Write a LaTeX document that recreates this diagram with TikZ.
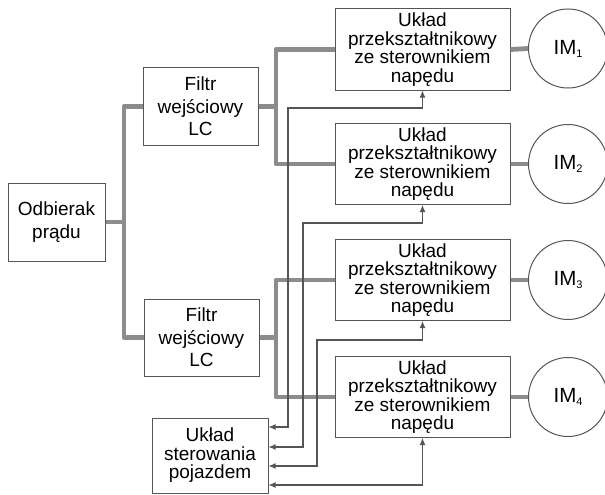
\documentclass[tikz,border=0pt]{standalone}
\usepackage{fontspec}
\setmainfont{Liberation Sans}
\usetikzlibrary{arrows.meta}
\definecolor{busgray}{HTML}{8C8C8C}
\definecolor{linegray}{HTML}{555555}
\tikzset{
  blk/.style={draw=linegray, line width=1pt, rectangle, inner sep=0pt, align=center},
  conv/.style={blk, minimum width=175pt, minimum height=81pt, font=\fontsize{19}{18.5}\selectfont},
  filt/.style={blk, minimum width=115pt, minimum height=77pt, font=\fontsize{19}{22.5}\selectfont},
  motor/.style={draw=linegray, line width=1pt, circle, minimum size=79pt, inner sep=0pt, font=\fontsize{20.5}{22}\selectfont},
  bus/.style={draw=busgray, line width=4.8pt, line join=round},
  sig/.style={draw=linegray, line width=1.1pt, {Latex[length=7pt,width=6pt]}-{Latex[length=7pt,width=6pt]}},
}
\newcommand{\msub}[1]{\raisebox{-3pt}{\fontsize{11}{11}\selectfont #1}}
\begin{document}
\begin{tikzpicture}[x=1pt,y=-1pt]
\useasboundingbox[fill=white] (0,0) rectangle (605,495);

\node[filt, minimum width=97pt, minimum height=78pt] (odb) at (56.5,222) {Odbierak\\prądu};
\node[filt] (f1) at (200.5,106.5) {Filtr\\wejściowy\\LC};
\node[filt] (f2) at (201.5,337.5) {Filtr\\wejściowy\\LC};

\node[conv] (c1) at (422.5,49.5) {Układ\\przekształtnikowy\\ze sterownikiem\\napędu};
\node[conv] (c2) at (422.5,164) {Układ\\przekształtnikowy\\ze sterownikiem\\napędu};
\node[conv] (c3) at (422.5,280) {Układ\\przekształtnikowy\\ze sterownikiem\\napędu};
\node[conv] (c4) at (422.5,397) {Układ\\przekształtnikowy\\ze sterownikiem\\napędu};

\node[motor] (m1) at (568,48.5) {IM\msub{1}};
\node[motor] (m2) at (568,164) {IM\msub{2}};
\node[motor] (m3) at (568,280) {IM\msub{3}};
\node[motor] (m4) at (568,397) {IM\msub{4}};

\node[blk, minimum width=116pt, minimum height=75pt, font=\fontsize{19}{18.5}\selectfont] (ctl) at (210,455.5) {Układ\\sterowania\\pojazdem};

% junction coordinates
\coordinate (j0) at (124,222);
\coordinate (j1) at (276,106.5);
\coordinate (j2) at (276,337.5);

% power bus
\draw[bus] (odb.east) -- (j0);
\draw[bus] (f1.west) -| (j0) |- (f2.west);
\draw[bus] (f1.east) -- (j1);
\draw[bus] (c1.west) -| (j1) |- (c2.west);
\draw[bus] (f2.east) -- (j2);
\draw[bus] (c3.west) -| (j2) |- (c4.west);
\foreach \i in {1,2,3,4} \draw[bus] (c\i.east) -- (m\i.west);

% control signals
\coordinate (k1) at (288,108);
\coordinate (k2) at (303,223);
\coordinate (k3) at (317,340);
\draw[sig] (ctl.east |- 0,427) -| (k1) -| (c1.south);
\draw[sig] (ctl.east |- 0,447) -| (k2) -| (c2.south);
\draw[sig] (ctl.east |- 0,466) -| (k3) -| (c3.south);
\draw[sig] (ctl.east |- 0,485) -| (c4.south);
\end{tikzpicture}
\end{document}
